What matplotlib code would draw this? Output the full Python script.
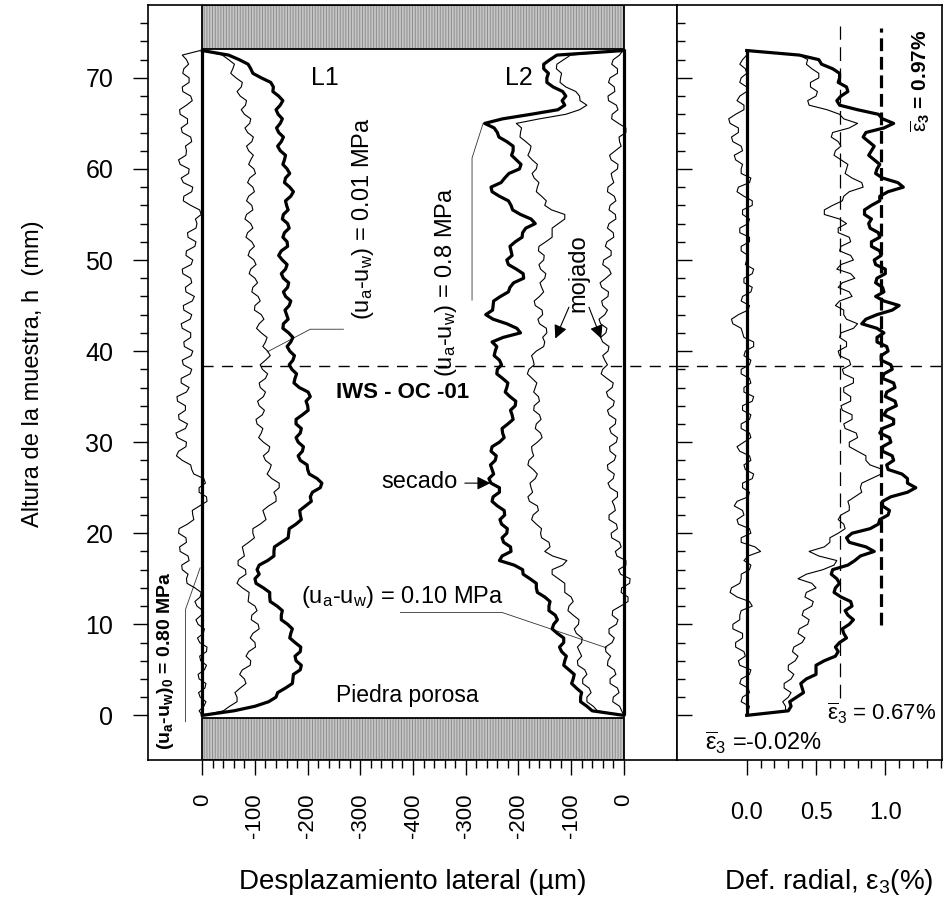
import numpy as np
import matplotlib
matplotlib.use("Agg")
import matplotlib.pyplot as plt
from matplotlib.patches import Rectangle
from matplotlib.ticker import FixedLocator, NullFormatter

plt.rcParams['font.family'] = ['Liberation Sans', 'DejaVu Sans']
plt.rcParams['mathtext.fontset'] = 'custom'
plt.rcParams['mathtext.rm'] = 'Liberation Sans'
plt.rcParams['mathtext.it'] = 'Liberation Sans'
plt.rcParams['mathtext.bf'] = 'Liberation Sans:bold'
plt.rcParams['hatch.linewidth'] = 0.7

# altura de la muestra (mm), una lectura cada 0.5 mm
altura = np.arange(0, 73.5, 0.5)

# desplazamiento lateral L1 (um)
l1_s010 = [0, 6, -3, -7, 4, 7, -5, -7, 6, 8,
           -4, -8, 3, 5, -8, -9, 5, 9, -2, -4,
           8, 12, 2, -1, 10, 14, 4, 2, 14, 29,
           30, 27, 38, 39, 25, 27, 42, 43, 30, 31,
           45, 44, 28, 16, 18, 19, 5, -9, -8, 6,
           6, -6, -3, 16, 20, 22, 38, 49, 45, 31,
           30, 47, 50, 32, 28, 44, 45, 32, 32, 47,
           48, 30, 25, 40, 40, 23, 20, 36, 38, 21,
           18, 34, 35, 22, 22, 38, 40, 23, 20, 35,
           36, 19, 15, 31, 32, 20, 22, 37, 38, 21,
           18, 31, 30, 14, 12, 27, 28, 12, 10, 13,
           2, 5, 22, 36, 35, 20, 18, 36, 40, 26,
           25, 42, 45, 31, 30, 32, 20, 22, 38, 40,
           28, 28, 42, 43, 30, 19, 22, 37, 38, 25,
           25, 37, 35, 26, 30, 38, 4]
l1_s001 = [0, -40, -52, -66, -66, -62, -72, -83, -80, -71,
           -76, -91, -92, -83, -88, -101, -100, -91, -96, -108,
           -106, -93, -94, -104, -100, -87, -88, -89, -76, -66,
           -70, -83, -82, -68, -68, -80, -78, -76, -88, -99,
           -96, -96, -110, -121, -118, -115, -126, -140, -140, -136,
           -146, -146, -132, -123, -128, -131, -120, -116, -126, -128,
           -116, -107, -112, -115, -104, -102, -114, -118, -108, -105,
           -116, -120, -110, -108, -120, -124, -114, -110, -120, -129,
           -124, -115, -120, -123, -112, -103, -108, -117, -112, -99,
           -100, -110, -106, -94, -96, -105, -100, -89, -92, -102,
           -98, -87, -90, -99, -94, -83, -86, -96, -92, -81,
           -84, -96, -94, -84, -88, -99, -96, -86, -90, -101,
           -98, -88, -92, -97, -88, -84, -94, -97, -86, -81,
           -90, -92, -80, -74, -82, -84, -72, -66, -74, -76,
           -64, -54, -58, -61, -50, -38, 0]
l1_s080 = [0, -60, -100, -126, -140, -143, -158, -171, -172, -173,
           -186, -188, -178, -176, -186, -187, -176, -166, -168, -171,
           -162, -150, -150, -152, -142, -129, -128, -128, -116, -102,
           -100, -108, -104, -108, -124, -136, -136, -137, -150, -163,
           -164, -165, -178, -188, -186, -185, -196, -207, -205, -209,
           -224, -227, -218, -203, -200, -199, -186, -182, -190, -192,
           -182, -178, -186, -188, -178, -178, -190, -201, -200, -197,
           -205, -201, -184, -174, -176, -179, -170, -165, -172, -175,
           -166, -161, -168, -172, -164, -153, -154, -163, -160, -157,
           -165, -168, -158, -154, -162, -164, -154, -150, -158, -161,
           -152, -145, -150, -162, -161, -153, -156, -165, -162, -152,
           -154, -163, -160, -158, -168, -173, -166, -156, -158, -166,
           -161, -153, -156, -158, -148, -143, -150, -154, -145, -141,
           -148, -152, -144, -140, -148, -153, -145, -134, -135, -130,
           -112, -96, -92, -87, -70, -50, 0]

# desplazamiento lateral L2 (um)
l2_s010 = [0, -4, -8, -21, -20, -9, -12, -26, -26, -15,
           -18, -31, -30, -25, -34, -35, -22, -18, -28, -28,
           -14, -11, -22, -21, -6, 8, 8, -5, -4, 11,
           12, -6, -10, 4, 4, -13, -16, -5, -8, -23,
           -24, -12, -14, -28, -28, -16, -18, -22, -12, -12,
           -26, -30, -20, -18, -30, -31, -18, -15, -26, -27,
           -14, -12, -24, -27, -16, -15, -28, -31, -20, -18,
           -30, -33, -22, -20, -32, -43, -40, -31, -36, -40,
           -30, -28, -40, -44, -34, -32, -44, -47, -36, -31,
           -40, -42, -30, -29, -42, -45, -34, -24, -28, -40,
           -38, -24, -24, -35, -32, -19, -20, -31, -28, -15,
           -16, -28, -26, -15, -18, -31, -30, -19, -22, -24,
           -12, -11, -24, -27, -16, -5, -8, -9, 4, 4,
           -10, -23, -22, -11, -14, -29, -30, -17, -18, -29,
           -26, -12, -12, -23, -20, -8, -2]
l2_s001 = [0, -50, -58, -70, -70, -62, -66, -78, -78, -70,
           -74, -87, -88, -80, -84, -88, -80, -79, -90, -94,
           -86, -85, -96, -106, -104, -96, -100, -112, -112, -112,
           -124, -136, -136, -116, -108, -135, -150, -140, -142, -156,
           -158, -156, -166, -175, -172, -162, -164, -179, -182, -173,
           -176, -178, -168, -164, -172, -182, -180, -171, -174, -175,
           -164, -155, -158, -168, -166, -157, -160, -171, -170, -160,
           -162, -171, -168, -165, -174, -183, -180, -170, -172, -175,
           -166, -152, -150, -154, -146, -147, -160, -163, -154, -155,
           -168, -170, -160, -152, -156, -159, -150, -148, -158, -161,
           -152, -151, -162, -161, -148, -136, -136, -136, -124, -112,
           -112, -137, -150, -147, -156, -166, -164, -161, -170, -174,
           -166, -164, -174, -182, -178, -176, -186, -197, -196, -194,
           -204, -160, -110, -84, -70, -83, -84, -91, -110, -121,
           -120, -118, -128, -127, -114, -101, 0]
l2_s080 = [0, -60, -70, -82, -82, -80, -90, -99, -96, -94,
           -104, -114, -112, -109, -118, -122, -114, -114, -126, -136,
           -133, -126, -130, -142, -142, -140, -150, -164, -166, -166,
           -178, -191, -192, -208, -236, -231, -214, -215, -228, -231,
           -222, -221, -232, -235, -226, -227, -240, -250, -248, -236,
           -236, -252, -256, -247, -250, -253, -244, -242, -252, -250,
           -236, -227, -230, -231, -220, -210, -212, -215, -206, -205,
           -216, -225, -222, -220, -230, -241, -240, -232, -236, -246,
           -244, -241, -250, -229, -196, -203, -222, -248, -262, -249,
           -248, -247, -234, -219, -216, -209, -190, -191, -204, -219,
           -222, -212, -214, -216, -206, -193, -192, -186, -168, -176,
           -196, -211, -214, -219, -236, -250, -252, -233, -226, -218,
           -198, -195, -204, -213, -210, -210, -222, -237, -240, -246,
           -264, -230, -176, -125, -112, -117, -110, -116, -134, -146,
           -146, -143, -152, -152, -140, -127, 0]

# deformacion radial (%)
eps_s010 = [0.00, 0.01, 0.02, -0.04, -0.03, 0.02, 0.01, -0.05, -0.04, 0.02,
            0.03, -0.05, -0.06, -0.01, -0.02, -0.08, -0.08, -0.03, -0.03, -0.10,
            -0.10, -0.05, -0.05, -0.04, 0.04, 0.02, -0.07, -0.12, -0.11, -0.05,
            -0.04, -0.04, 0.02, 0.03, -0.02, 0.01, 0.10, 0.06, -0.04, -0.04,
            0.03, 0.02, -0.06, -0.07, -0.02, -0.03, -0.09, -0.07, 0.01, 0.02,
            -0.03, -0.03, 0.04, 0.05, -0.01, -0.02, 0.03, 0.02, -0.05, -0.07,
            -0.02, 0.03, 0.02, -0.04, -0.04, 0.02, 0.03, -0.03, -0.03, 0.04,
            0.05, -0.02, -0.02, 0.03, 0.02, -0.04, -0.04, 0.02, 0.03, -0.02,
            -0.01, 0.05, 0.05, -0.02, -0.03, -0.04, -0.10, -0.11, -0.06, 0.01,
            0.02, -0.04, -0.03, 0.03, 0.04, -0.02, -0.02, 0.04, 0.05, -0.01,
            0.00, 0.01, -0.04, -0.04, 0.02, 0.02, -0.05, -0.05, 0.01, 0.02,
            -0.03, -0.03, 0.04, 0.04, -0.02, -0.07, -0.06, 0.02, 0.03, -0.04,
            -0.04, -0.03, -0.08, -0.09, -0.03, -0.04, -0.10, -0.11, -0.06, -0.06,
            -0.12, -0.13, -0.08, -0.02, -0.02, -0.07, -0.05, 0.00, 0.00, -0.05,
            -0.04, 0.00, -0.01, -0.05, -0.03, 0.00, 0.00]
eps_s001 = [0.00, 0.28, 0.28, 0.26, 0.30, 0.32, 0.27, 0.27, 0.32, 0.34,
            0.30, 0.30, 0.35, 0.37, 0.33, 0.34, 0.40, 0.42, 0.37, 0.38,
            0.44, 0.45, 0.40, 0.41, 0.47, 0.48, 0.42, 0.43, 0.50, 0.47,
            0.37, 0.43, 0.55, 0.63, 0.65, 0.52, 0.45, 0.56, 0.60, 0.60,
            0.66, 0.71, 0.70, 0.66, 0.68, 0.74, 0.74, 0.73, 0.78, 0.83,
            0.82, 0.83, 0.90, 0.97, 0.98, 0.89, 0.86, 0.86, 0.80, 0.74,
            0.74, 0.80, 0.79, 0.71, 0.70, 0.76, 0.76, 0.69, 0.68, 0.75,
            0.75, 0.70, 0.70, 0.77, 0.77, 0.70, 0.69, 0.75, 0.74, 0.67,
            0.66, 0.72, 0.72, 0.67, 0.68, 0.77, 0.80, 0.72, 0.70, 0.70,
            0.64, 0.67, 0.76, 0.74, 0.66, 0.69, 0.78, 0.75, 0.65, 0.68,
            0.77, 0.75, 0.67, 0.68, 0.75, 0.74, 0.66, 0.66, 0.72, 0.67,
            0.56, 0.56, 0.62, 0.69, 0.70, 0.74, 0.84, 0.83, 0.76, 0.71,
            0.72, 0.73, 0.68, 0.63, 0.64, 0.68, 0.66, 0.61, 0.62, 0.74,
            0.80, 0.70, 0.67, 0.58, 0.45, 0.44, 0.50, 0.51, 0.46, 0.46,
            0.52, 0.52, 0.47, 0.43, 0.44, 0.38, 0.00]
eps_s080 = [0.00, 0.30, 0.32, 0.31, 0.36, 0.41, 0.40, 0.39, 0.43, 0.50,
            0.50, 0.50, 0.56, 0.64, 0.66, 0.64, 0.67, 0.72, 0.70, 0.69,
            0.74, 0.77, 0.73, 0.71, 0.76, 0.75, 0.68, 0.63, 0.64, 0.67,
            0.65, 0.61, 0.62, 0.73, 0.78, 0.82, 0.92, 0.86, 0.74, 0.72,
            0.76, 0.89, 0.95, 0.96, 1.02, 1.03, 0.98, 0.98, 1.04, 1.16,
            1.22, 1.16, 1.16, 1.12, 1.02, 1.01, 1.06, 1.05, 0.98, 0.98,
            1.04, 1.03, 0.96, 0.98, 1.06, 1.06, 0.99, 1.01, 1.08, 1.07,
            1.00, 1.01, 1.07, 1.06, 0.98, 0.99, 1.05, 1.04, 0.97, 0.97,
            1.02, 1.01, 0.94, 0.94, 0.99, 0.94, 0.83, 0.86, 0.94, 1.05,
            1.10, 0.99, 0.93, 0.99, 0.98, 0.93, 0.94, 1.00, 1.00, 0.93,
            0.92, 0.97, 0.96, 0.90, 0.90, 0.96, 0.95, 0.89, 0.88, 0.90,
            0.85, 0.85, 0.90, 0.96, 0.96, 1.02, 1.13, 1.09, 0.98, 0.93,
            0.94, 0.96, 0.92, 0.88, 0.90, 0.92, 0.88, 0.84, 0.86, 0.99,
            1.06, 0.98, 0.95, 0.80, 0.67, 0.65, 0.68, 0.73, 0.72, 0.66,
            0.67, 0.67, 0.62, 0.54, 0.52, 0.38, 0.00]

# valores medios de la deformacion radial (%)
eps_media_s010 = -0.02
eps_media_s001 = 0.67
eps_media_s080 = 0.97

h_muestra = 73.2      # altura de la probeta (mm)
h_media = 38.4        # cota de la linea horizontal discontinua
sep = 800             # separacion entre los ceros de L1 y L2 en el eje

xt_pos = np.arange(0, sep + 1, 100)
xt_lab = ['%d' % -min(p, sep - p) for p in xt_pos]

fig = plt.figure(figsize=(9.44, 9.08), dpi=100)
ax1 = fig.add_axes([148 / 944, 1 - 760 / 908, 529 / 944, 755 / 908])
ax2 = fig.add_axes([677 / 944, 1 - 760 / 908, 265 / 944, 755 / 908])

ylim = (-4.9, 78.0)
thin = 0.8
thick = 2.3
narrow = ['Liberation Sans Narrow', 'Liberation Sans']

# ---- panel izquierdo: desplazamiento lateral ----
ax1.set_xlim(-103, 901)
ax1.set_ylim(*ylim)

# piedras porosas
for y0, y1 in [(ylim[0], -0.3), (h_muestra, ylim[1])]:
    ax1.add_patch(Rectangle((0, y0), sep, y1 - y0, facecolor='#c6c6c6',
                            edgecolor='#8e8e8e', hatch='||||||', lw=0, zorder=1))
    ax1.add_patch(Rectangle((0, y0), sep, y1 - y0, fill=False,
                            edgecolor='k', lw=1.3, zorder=4))

ax1.vlines([0, sep], 0, h_muestra, color='k', lw=thick, zorder=3)

L1 = [np.array(l1_s010), np.array(l1_s001), np.array(l1_s080)]
L2 = [np.array(l2_s010), np.array(l2_s001), np.array(l2_s080)]
for d, lw in zip(L1, [thin, thin, thick]):
    ax1.plot(-d, altura, color='k', lw=lw, zorder=3)
for d, lw in zip(L2, [thin, thin, thick]):
    ax1.plot(sep + d, altura, color='k', lw=lw, zorder=3)

ax1.hlines(h_media, 0, 901, color='k', lw=1.0, linestyles=(0, (8, 6)), zorder=2)

ax1.xaxis.set_major_locator(FixedLocator(xt_pos))
ax1.xaxis.set_minor_locator(FixedLocator(np.arange(0, sep + 1, 20)))
ax1.set_xticklabels(xt_lab, rotation=90, fontsize=16)
ax1.yaxis.set_major_locator(FixedLocator(np.arange(0, 71, 10)))
ax1.yaxis.set_minor_locator(FixedLocator(np.arange(0, 77, 2)))
ax1.tick_params(axis='y', labelsize=18)
ax1.tick_params(which='major', length=11, width=1.0, direction='out', pad=14)
ax1.tick_params(which='minor', length=6, width=1.0, direction='out')
ax1.tick_params(axis='x', which='major', pad=13)

# textos del panel izquierdo
ax1.text(233, 70, 'L1', fontsize=18, ha='center', va='center')
ax1.text(600, 70, 'L2', fontsize=18, ha='center', va='center')
ax1.text(381, 35.4, 'IWS - OC -01', fontsize=16, fontweight='bold',
         ha='center', va='center')
ax1.text(389, 2.2, 'Piedra porosa', fontsize=16.5, ha='center', va='center')

ax1.text(305, 54.6, r'(u$_\mathregular{a}$-u$_\mathregular{w}$) = 0.01 MPa',
         fontsize=17, rotation=90, ha='center', va='center')
ax1.plot([268, 205, 123], [42.4, 42.4, 39.9], color='#333333', lw=0.6)

ax1.text(463, 47.6, r'(u$_\mathregular{a}$-u$_\mathregular{w}$) = 0.8 MPa',
         fontsize=17, rotation=90, ha='center', va='center')
ax1.plot([512, 512, 533], [45.6, 61.2, 65.0], color='#333333', lw=0.6)

ax1.text(380, 13.0, r'(u$_\mathregular{a}$-u$_\mathregular{w}$) = 0.10 MPa',
         fontsize=17, ha='center', va='center')
ax1.plot([376, 569, 768], [11.3, 11.3, 7.4], color='#333333', lw=0.6)

ax1.text(-70, 6.0, r'(u$_\mathregular{a}$-u$_\mathregular{w}$)$_\mathregular{0}$ = 0.80 MPa',
         fontsize=14, fontweight='bold', rotation=90, ha='center', va='center',
         family=narrow)
ax1.plot([-32, -32, -4], [-0.7, 11.6, 16.2], color='#333333', lw=0.6)

ax1.text(412, 25.6, 'secado', fontsize=17, ha='center', va='center')
arrow = dict(arrowstyle='-|>', lw=0.8, color='k', mutation_scale=20)
ax1.annotate('', xy=(552, 25.5), xytext=(493, 25.5), arrowprops=arrow)

ax1.text(713, 48.6, 'mojado', fontsize=17, rotation=90, ha='center', va='center')
ax1.annotate('', xy=(668, 41.1), xytext=(698, 45.1), arrowprops=arrow)
ax1.annotate('', xy=(759, 41.1), xytext=(732, 45.1), arrowprops=arrow)

# ---- panel derecho: deformacion radial ----
ax2.set_xlim(-0.503, 1.409)
ax2.set_ylim(*ylim)
ax2.vlines(0, 0, h_muestra, color='k', lw=thick, zorder=3)
for e, lw in zip([eps_s010, eps_s001, eps_s080], [thin, thin, thick]):
    ax2.plot(e, altura, color='k', lw=lw, zorder=3)

ax2.vlines(eps_media_s001, 1.9, 75.7, color='k', lw=0.9,
           linestyles=(0, (11, 6)), zorder=2)
ax2.vlines(eps_media_s080, 9.9, 75.5, color='k', lw=2.3,
           linestyles=(0, (4, 1.8)), zorder=2)
ax2.axhline(h_media, color='k', lw=1.0, linestyle=(0, (8, 6)), zorder=2)

eb = r'$\overline{\varepsilon}_\mathregular{3}$'
ax2.text(1.25, 69.7, eb + ' = %.2f%%' % eps_media_s080, fontsize=15,
         fontweight='bold', rotation=90, ha='center', va='center')
ax2.text(1.365, 0.2, eb + ' = %.2f%%' % eps_media_s001, fontsize=16,
         ha='right', va='center')
ax2.text(-0.3, -3.0, eb + ' =%.2f%%' % eps_media_s010, fontsize=17,
         ha='left', va='center')

ax2.xaxis.set_major_locator(FixedLocator([0.0, 0.5, 1.0]))
ax2.xaxis.set_minor_locator(FixedLocator(np.arange(0, 1.41, 0.1)))
ax2.set_xticklabels(['0.0', '0.5', '1.0'], fontsize=17)
ax2.yaxis.set_major_locator(FixedLocator(np.arange(0, 71, 10)))
ax2.yaxis.set_minor_locator(FixedLocator(np.arange(0, 77, 2)))
ax2.yaxis.set_major_formatter(NullFormatter())
ax2.tick_params(axis='x', which='major', length=11, width=1.0, direction='out', pad=19)
ax2.tick_params(axis='x', which='minor', length=6, width=1.0, direction='out')
ax2.tick_params(axis='y', which='major', length=11, width=1.0, direction='in')
ax2.tick_params(axis='y', which='minor', length=6, width=1.0, direction='in')

for ax in (ax1, ax2):
    for s in ax.spines.values():
        s.set_linewidth(1.2)

# titulos de ejes
fig.text(413 / 944, 1 - 882 / 908, 'Desplazamiento lateral (\u00b5m)', fontsize=20,
         ha='center', va='center')
fig.text(829 / 944, 1 - 882 / 908, r'Def. radial, $\varepsilon_\mathregular{3}$(%)',
         fontsize=20, ha='center', va='center')
fig.text(33 / 944, 1 - 374 / 908, 'Altura de la muestra, h  (mm)', fontsize=17,
         rotation=90, ha='center', va='center', family=narrow)

fig.savefig('out.png', dpi=100)
